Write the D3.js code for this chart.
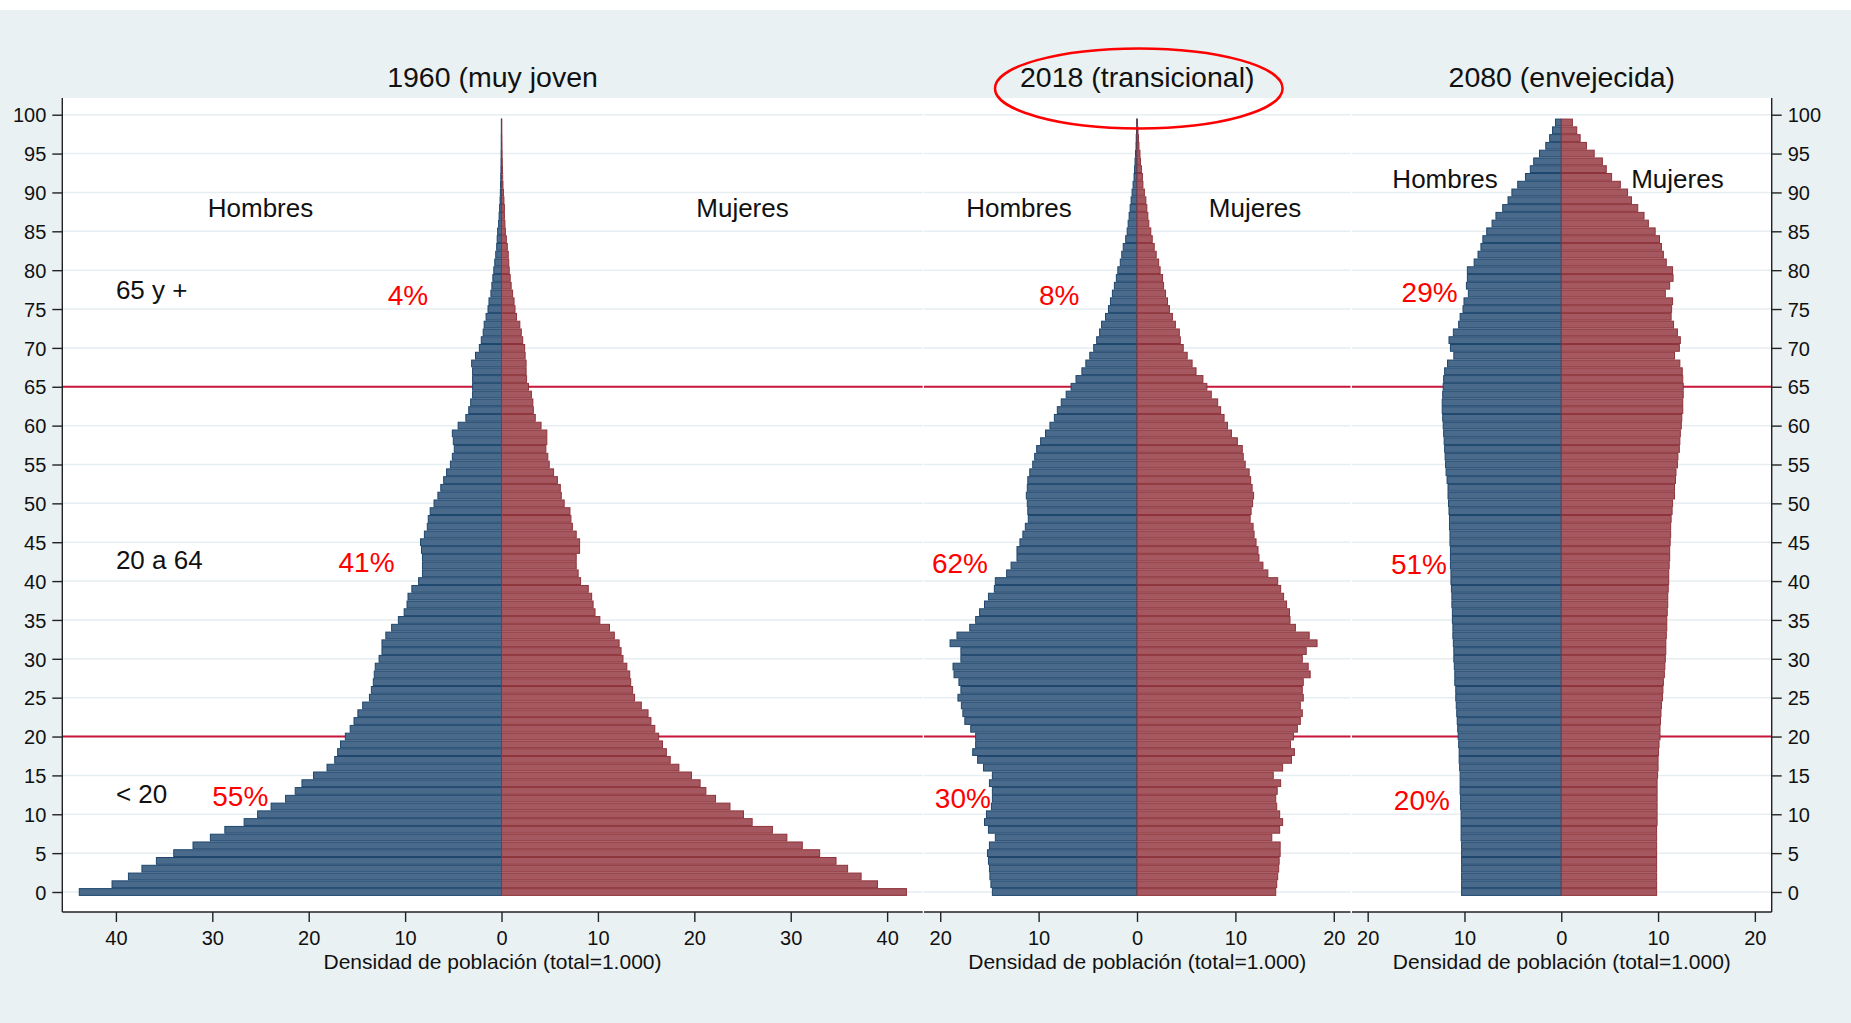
<!DOCTYPE html>
<html><head><meta charset="utf-8">
<script src="https://cdn.jsdelivr.net/npm/d3@7"></script>
<style>html,body{margin:0;padding:0;background:#eaf1f3;} svg{display:block}</style>
</head><body><svg id="c" width="1851" height="1023"></svg>
<script>
// ---------------- DATA ----------------
const ages = d3.range(0, 100);
const titles = ["1960 (muy joven", "2018 (transicional)", "2080 (envejecida)"];
const axisTitle = "Densidad de población (total=1.000)";
const sexLabels = ["Hombres", "Mujeres"];

const male1960 = [43.8,40.4,38.7,37.3,35.8,34.0,32.0,30.2,28.7,26.7,
25.3,23.9,22.4,21.4,20.7,19.5,18.1,17.3,17.0,16.7,
16.2,15.7,15.3,14.9,14.4,13.7,13.5,13.3,13.2,13.1,
12.7,12.4,12.4,12.0,11.4,10.7,10.1,9.8,9.7,9.3,
8.6,8.2,8.2,8.2,8.3,8.4,8.0,7.7,7.6,7.4,
7.0,6.6,6.3,6.0,5.7,5.3,5.1,4.9,5.0,5.1,
4.5,3.7,3.4,3.2,3.0,3.0,3.0,3.0,3.1,2.7,
2.3,2.1,1.9,1.8,1.6,1.4,1.3,1.1,1.0,0.9,
0.8,0.7,0.6,0.5,0.45,0.4,0.3,0.25,0.2,0.15,
0.12,0.1,0.08,0.06,0.05,0.04,0.03,0.03,0.02,0.02];
const female1960 = [42.0,39.0,37.3,35.9,34.7,33.0,31.2,29.6,28.1,26.0,
25.1,23.7,22.2,21.2,20.6,19.7,18.4,17.5,17.1,16.7,
16.3,15.9,15.5,15.2,14.5,13.8,13.6,13.4,13.3,13.0,
12.6,12.4,12.2,11.7,11.2,10.2,9.7,9.5,9.35,9.0,
8.2,7.95,7.75,7.75,8.1,8.1,7.75,7.35,7.2,7.1,
6.5,6.2,6.1,5.8,5.4,4.95,4.8,4.6,4.7,4.7,
4.1,3.5,3.3,3.25,3.1,2.8,2.6,2.55,2.55,2.45,
2.4,2.2,2.05,1.9,1.55,1.4,1.3,1.15,1.0,0.9,
0.8,0.75,0.7,0.6,0.5,0.4,0.35,0.3,0.3,0.25,
0.2,0.15,0.12,0.1,0.08,0.06,0.05,0.04,0.03,0.03];

const male2018 = [14.7,14.85,14.95,15.0,15.1,15.2,15.0,14.4,15.1,15.5,
15.3,14.8,14.7,14.7,15.0,14.7,15.6,16.2,16.7,16.4,
16.4,16.9,17.5,17.7,17.85,18.2,17.9,18.1,18.6,18.7,
17.9,17.9,19.0,18.3,17.0,16.4,16.0,15.5,15.1,14.5,
14.4,13.25,12.8,12.2,12.2,11.9,11.6,11.35,11.05,11.1,
11.15,11.25,11.15,11.1,10.9,10.6,10.4,10.2,9.8,9.3,
8.85,8.4,8.1,7.7,7.2,6.7,6.2,5.6,5.2,4.8,
4.4,4.1,3.8,3.6,3.2,2.9,2.7,2.5,2.3,2.1,
1.95,1.7,1.55,1.4,1.15,1.0,0.9,0.8,0.7,0.6,
0.5,0.4,0.3,0.25,0.2,0.15,0.1,0.08,0.05,0.03];
const female2018 = [14.1,14.2,14.3,14.4,14.45,14.55,14.55,13.7,14.5,14.8,
14.5,14.2,14.1,14.25,14.6,13.85,14.8,15.7,16.0,15.6,
15.9,16.3,16.6,16.8,16.6,16.9,16.8,16.9,17.6,17.4,
16.8,17.2,18.3,17.5,16.1,15.55,15.5,15.2,14.9,14.6,
14.3,13.3,12.8,12.4,12.3,12.1,11.9,11.8,11.5,11.6,
11.75,11.85,11.7,11.55,11.4,11.0,10.8,10.7,10.2,9.6,
9.2,8.85,8.5,8.2,7.55,7.1,6.7,6.0,5.6,5.1,
4.7,4.4,4.3,3.9,3.6,3.3,3.1,2.9,2.7,2.6,
2.35,2.2,1.95,1.75,1.55,1.4,1.2,1.1,1.0,0.9,
0.75,0.6,0.55,0.45,0.35,0.3,0.2,0.15,0.1,0.05];

const male2080 = [10.3,10.3,10.3,10.3,10.3,10.3,10.3,10.35,10.35,10.35,
10.35,10.4,10.4,10.45,10.45,10.45,10.5,10.55,10.55,10.6,
10.65,10.7,10.75,10.8,10.85,10.9,10.9,11.0,11.0,11.05,
11.1,11.1,11.15,11.2,11.2,11.25,11.25,11.3,11.3,11.35,
11.4,11.4,11.45,11.45,11.45,11.5,11.5,11.55,11.55,11.6,
11.65,11.7,11.7,11.8,11.9,11.95,12.0,12.05,12.1,12.15,
12.2,12.25,12.3,12.3,12.25,12.2,12.15,12.05,11.75,11.1,
11.45,11.6,11.15,10.6,10.45,10.15,10.05,9.6,9.8,9.7,
9.7,9.0,8.6,8.3,8.1,7.7,7.15,6.75,6.05,5.5,
5.1,4.5,3.7,3.2,2.85,2.25,1.6,1.2,0.9,0.6];
const female2080 = [9.85,9.85,9.85,9.85,9.85,9.85,9.85,9.85,9.85,9.9,
9.9,9.9,9.9,9.9,9.9,9.95,10.0,10.0,10.05,10.1,
10.2,10.2,10.25,10.3,10.35,10.45,10.5,10.55,10.65,10.7,
10.75,10.8,10.8,10.85,10.9,10.9,10.95,11.0,11.0,11.05,
11.1,11.1,11.15,11.2,11.2,11.25,11.3,11.3,11.35,11.45,
11.5,11.7,11.7,11.8,11.85,12.0,12.05,12.2,12.25,12.3,
12.4,12.45,12.55,12.55,12.6,12.6,12.55,12.5,12.25,11.7,
12.2,12.3,12.0,11.6,11.35,11.4,11.5,10.75,11.2,11.55,
11.5,10.85,10.55,10.35,10.15,9.7,9.0,8.55,7.9,7.25,
6.85,6.1,5.2,4.65,4.25,3.4,2.6,1.95,1.6,1.15];

const yTickValues = d3.range(0, 101, 5);
const xTicks1960 = [-40, -30, -20, -10, 0, 10, 20, 30, 40];
const xTicks2018 = [-20, -10, 0, 10, 20];
const xTicks2080 = [-20, -10, 0, 10, 20];
const xDomain1960 = [-45.56, 43.69];
const xDomain2018 = [-21.65, 21.7];
const xDomain2080 = [-21.62, 21.74];
const refAges = [20, 65];

// annotations (data coordinates: value, age)
const groupLabels = ["65 y +", "20 a 64", "< 20"];
const groupLabelAges = [77.5, 42.7, 12.7];
const groupLabelX = -40;
const shares1960 = ["4%", "41%", "55%"];
const shareAges1960 = [76.8, 42.5, 12.35];
const shareX1960 = [-9.7, -14.0, -27.1];
const shares2018 = ["8%", "62%", "30%"];
const shareAges2018 = [76.8, 42.4, 12.05];
const shareX2018 = [-7.9, -18.0, -17.7];
const shares2080 = ["29%", "51%", "20%"];
const shareAges2080 = [77.2, 42.2, 11.8];
const shareX2080 = [-13.6, -14.7, -14.4];
const sexLabelX = [25, 12, 12];
const sexLabelAge = [88, 88, 91.8];

// ---------------- LAYOUT ----------------
const W = 1851, H = 1023;
const plotTop = 98, plotBottom = 912;
const panelRanges = [[62.3, 922.7], [924, 1350.5], [1352, 1771.7]];
const FONT = "'Liberation Sans', Arial, Helvetica, sans-serif";
const BLUE_FILL = "#4a6a8b", BLUE_LINE = "#1d466d";
const RED_FILL = "#a5585f", RED_LINE = "#8e333b";
const GRID = "#e6eef1", REF = "#c8173a", AXIS = "#222";

const panels = [
  {title: titles[0], male: male1960, female: female1960, ticks: xTicks1960, domain: xDomain1960,
   shares: shares1960, shareAges: shareAges1960, shareX: shareX1960, groups: true},
  {title: titles[1], male: male2018, female: female2018, ticks: xTicks2018, domain: xDomain2018,
   shares: shares2018, shareAges: shareAges2018, shareX: shareX2018, groups: false},
  {title: titles[2], male: male2080, female: female2080, ticks: xTicks2080, domain: xDomain2080,
   shares: shares2080, shareAges: shareAges2080, shareX: shareX2080, groups: false}
];

const svg = d3.select("#c");
svg.append("rect").attr("width", W).attr("height", H).attr("fill", "#eaf1f3");
svg.append("rect").attr("width", W).attr("height", 10).attr("fill", "#ffffff");
svg.append("rect").attr("x", panelRanges[0][0]).attr("y", plotTop)
  .attr("width", panelRanges[2][1] - panelRanges[0][0]).attr("height", plotBottom - plotTop)
  .attr("fill", "#ffffff");

const y = d3.scaleLinear().domain([-2.573, 102.15]).range([plotBottom, plotTop]);
const band = Math.abs(y(1) - y(0));

const xScales = [];
panels.forEach((p, i) => {
  const r = panelRanges[i];
  const x = d3.scaleLinear().domain(p.domain).range(r);
  xScales.push(x);
  const g = svg.append("g");

  // gridlines
  g.selectAll("line.grid").data(yTickValues).enter().append("line")
    .attr("x1", r[0]).attr("x2", r[1])
    .attr("y1", d => y(d)).attr("y2", d => y(d))
    .attr("stroke", GRID).attr("stroke-width", 1.5);

  // reference lines
  g.selectAll("line.ref").data(refAges).enter().append("line")
    .attr("x1", r[0]).attr("x2", r[1])
    .attr("y1", d => y(d)).attr("y2", d => y(d))
    .attr("stroke", REF).attr("stroke-width", 2);

  // bars
  g.selectAll("rect.m").data(ages).enter().append("rect")
    .attr("x", a => x(-p.male[a]))
    .attr("width", a => x(0) - x(-p.male[a]))
    .attr("y", a => y(a + 0.5) + 0.5)
    .attr("height", band - 1)
    .attr("fill", BLUE_FILL).attr("stroke", BLUE_LINE).attr("stroke-width", 1);
  g.selectAll("rect.f").data(ages).enter().append("rect")
    .attr("x", x(0))
    .attr("width", a => x(p.female[a]) - x(0))
    .attr("y", a => y(a + 0.5) + 0.5)
    .attr("height", band - 1)
    .attr("fill", RED_FILL).attr("stroke", RED_LINE).attr("stroke-width", 1);

  // x axis
  const xa = d3.axisBottom(x).tickValues(p.ticks).tickSize(10).tickPadding(6)
    .tickFormat(d => Math.abs(d));
  const ax = svg.append("g").attr("transform", `translate(0,${plotBottom})`).call(xa);
  ax.select(".domain").attr("d", `M${r[0]},0H${r[1]}`).attr("stroke", AXIS).attr("stroke-width", 1.4);
  ax.selectAll(".tick line").attr("stroke", AXIS).attr("stroke-width", 1.4);
  ax.selectAll(".tick text").attr("font-family", FONT).attr("font-size", 20).attr("fill", "#111")
    .attr("dy", null).attr("y", 33);

  // axis title
  svg.append("text").attr("x", (r[0] + r[1]) / 2).attr("y", 968.5)
    .attr("text-anchor", "middle").attr("font-family", FONT).attr("font-size", 21)
    .attr("fill", "#111").text(axisTitle);

  // panel title
  svg.append("text").attr("x", (r[0] + r[1]) / 2).attr("y", 87.3)
    .attr("text-anchor", "middle").attr("font-family", FONT).attr("font-size", 28.5)
    .attr("fill", "#111").text(p.title);

  // sex labels
  [-sexLabelX[i], sexLabelX[i]].forEach((v, k) => {
    svg.append("text").attr("x", x(v)).attr("y", y(sexLabelAge[i])).attr("dy", "0.36em")
      .attr("text-anchor", "middle").attr("font-family", FONT).attr("font-size", 26)
      .attr("fill", "#111").text(sexLabels[k]);
  });

  // shares
  p.shares.forEach((s, k) => {
    svg.append("text").attr("x", x(p.shareX[k])).attr("y", y(p.shareAges[k])).attr("dy", "0.36em")
      .attr("text-anchor", "middle").attr("font-family", FONT).attr("font-size", 28)
      .attr("fill", "#ff0000").text(s);
  });

  if (p.groups) {
    groupLabels.forEach((s, k) => {
      svg.append("text").attr("x", x(groupLabelX)).attr("y", y(groupLabelAges[k])).attr("dy", "0.36em")
        .attr("text-anchor", "start").attr("font-family", FONT).attr("font-size", 26)
        .attr("fill", "#111").text(s);
    });
  }
});

// y axes
const yl = svg.append("g").attr("transform", `translate(${panelRanges[0][0]},0)`)
  .call(d3.axisLeft(y).tickValues(yTickValues).tickSize(10).tickPadding(6));
const yr = svg.append("g").attr("transform", `translate(${panelRanges[2][1]},0)`)
  .call(d3.axisRight(y).tickValues(yTickValues).tickSize(10).tickPadding(6));
[yl, yr].forEach(a => {
  a.select(".domain").attr("d", `M0,${plotTop}V${plotBottom}`).attr("stroke", AXIS).attr("stroke-width", 1.4);
  a.selectAll(".tick line").attr("stroke", AXIS).attr("stroke-width", 1.4);
  a.selectAll(".tick text").attr("font-family", FONT).attr("font-size", 20).attr("fill", "#111")
    .attr("dy", "0.36em");
});

// highlight ellipse around the 2018 title
const x2 = xScales[1];
svg.append("ellipse").attr("cx", x2(0) + 1.8).attr("cy", 88.4)
  .attr("rx", 143.8).attr("ry", 40)
  .attr("fill", "none").attr("stroke", "#ff0000").attr("stroke-width", 2.5);
</script></body></html>
